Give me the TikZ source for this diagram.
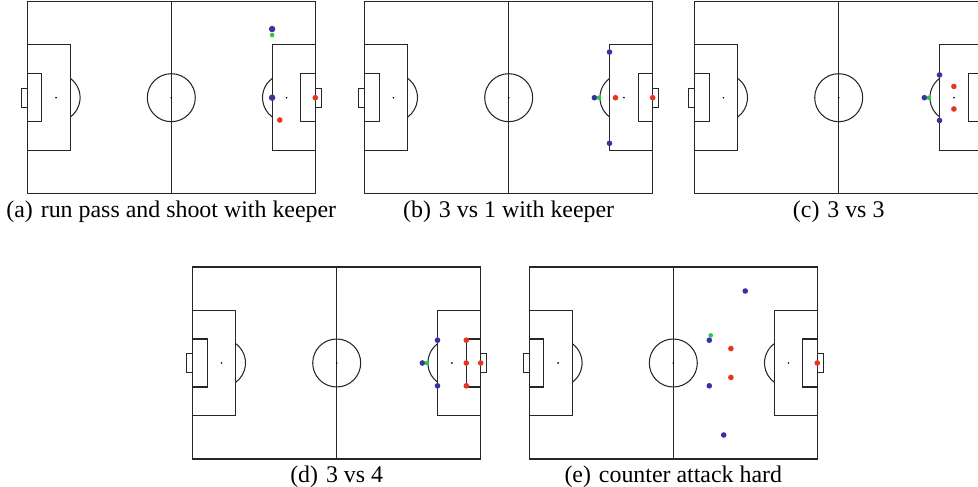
\documentclass[tikz,border=0pt]{standalone}
\usepackage{fontspec}
\setmainfont{Liberation Serif}
\definecolor{pblue}{RGB}{52,52,165}
\definecolor{pred}{RGB}{232,52,28}
\definecolor{pgreen}{RGB}{40,200,70}
\tikzset{
  pline/.style={line width=1.05pt, draw=black!85},
  bluep/.style={fill=pblue},
  redp/.style={fill=pred},
  greenp/.style={fill=pgreen},
  subcap/.style={anchor=base, font=\fontsize{23.9}{28}\selectfont, inner sep=0pt},
}
\newcommand\rb{1.17}
\newcommand\rr{1.17}
\newcommand\rg{0.95}
\newcommand\pitchlines{%
  \draw[pline] (0,0) rectangle (120,80);
  \draw[pline] (60,0) -- (60,80);
  \draw[pline] (60,40) circle[radius=10];
  \fill (60,40) circle[radius=0.38];
  \draw[pline] (0,18) rectangle (18,62);
  \draw[pline] (0,30) rectangle (6,50);
  \draw[pline] (0,36) rectangle (-2.5,44);
  \fill (12,40) circle[radius=0.38];
  \draw[pline] (18,32) arc[start angle=-53.13, end angle=53.13, radius=10];
  \draw[pline] (120,18) rectangle (102,62);
  \draw[pline] (120,30) rectangle (114,50);
  \draw[pline] (120,36) rectangle (122.5,44);
  \fill (108,40) circle[radius=0.38];
  \draw[pline] (102,32) arc[start angle=233.13, end angle=126.87, radius=10];
}
\begin{document}
\begin{tikzpicture}[x=1pt,y=-1pt]
\useasboundingbox (0,0) rectangle (978,487);
\clip (0,0) rectangle (978,487);

% (a)
\begin{scope}[shift={(27.3,1.7)}, x=2.4pt, y=-2.4pt]
  \pitchlines
  \fill[greenp] (102,13.9) circle[radius=\rg];
  \fill[bluep] (102,11.4) circle[radius=1.35];
  \fill[bluep] (102,40) circle[radius=1.35];
  \fill[redp] (105.2,49.3) circle[radius=\rr];
  \fill[redp] (120,40) circle[radius=\rr];
\end{scope}
\node[subcap] (capa) at (171.3,217.5) {(a)\hspace{0.33em}run pass and shoot with keeper};

% (b)
\begin{scope}[shift={(364.7,1.7)}, x=2.4pt, y=-2.4pt]
  \pitchlines
  \fill[bluep] (102,21) circle[radius=\rb];
  \fill[bluep] (102,59) circle[radius=\rb];
  \fill[bluep] (95.7,40) circle[radius=\rb];
  \fill[greenp] (97.6,40) circle[radius=\rg];
  \fill[redp] (104.5,40) circle[radius=\rr];
  \fill[redp] (120,40) circle[radius=\rr];
\end{scope}
\node[subcap] (capb) at (508.7,217.5) {(b)\hspace{0.33em}3 vs 1 with keeper};

% (c)
\begin{scope}[shift={(694.7,1.7)}, x=2.4pt, y=-2.4pt]
  \pitchlines
  \fill[bluep] (102,30.5) circle[radius=\rb];
  \fill[bluep] (102,49.5) circle[radius=\rb];
  \fill[bluep] (95.7,40) circle[radius=\rb];
  \fill[greenp] (97.6,40) circle[radius=\rg];
  \fill[redp] (108,35.3) circle[radius=\rr];
  \fill[redp] (108,44.7) circle[radius=\rr];
\end{scope}
\node[subcap] (capc) at (838.7,217.5) {(c)\hspace{0.33em}3 vs 3};

% (d)
\begin{scope}[shift={(192.7,267)}, x=2.4pt, y=-2.4pt]
  \pitchlines
  \fill[bluep] (102,30.5) circle[radius=\rb];
  \fill[bluep] (102,49.5) circle[radius=\rb];
  \fill[bluep] (95.7,40) circle[radius=\rb];
  \fill[greenp] (97.6,40) circle[radius=\rg];
  \fill[redp] (114,30.5) circle[radius=\rr];
  \fill[redp] (114,40) circle[radius=\rr];
  \fill[redp] (114,49.5) circle[radius=\rr];
  \fill[redp] (120,40) circle[radius=\rr];
\end{scope}
\node[subcap] (capd) at (336.7,482.5) {(d)\hspace{0.33em}3 vs 4};

% (e)
\begin{scope}[shift={(529.3,267)}, x=2.4pt, y=-2.4pt]
  \pitchlines
  \fill[bluep] (90,10) circle[radius=\rb];
  \fill[greenp] (75.6,28.5) circle[radius=\rg];
  \fill[bluep] (75,30.5) circle[radius=\rb];
  \fill[redp] (84,34) circle[radius=\rr];
  \fill[redp] (84,46) circle[radius=\rr];
  \fill[bluep] (75,49.5) circle[radius=\rb];
  \fill[bluep] (81,70) circle[radius=\rb];
  \fill[redp] (120,40) circle[radius=\rr];
\end{scope}
\node[subcap] (cape) at (673.3,482.5) {(e)\hspace{0.33em}counter attack hard};
\end{tikzpicture}
\end{document}
